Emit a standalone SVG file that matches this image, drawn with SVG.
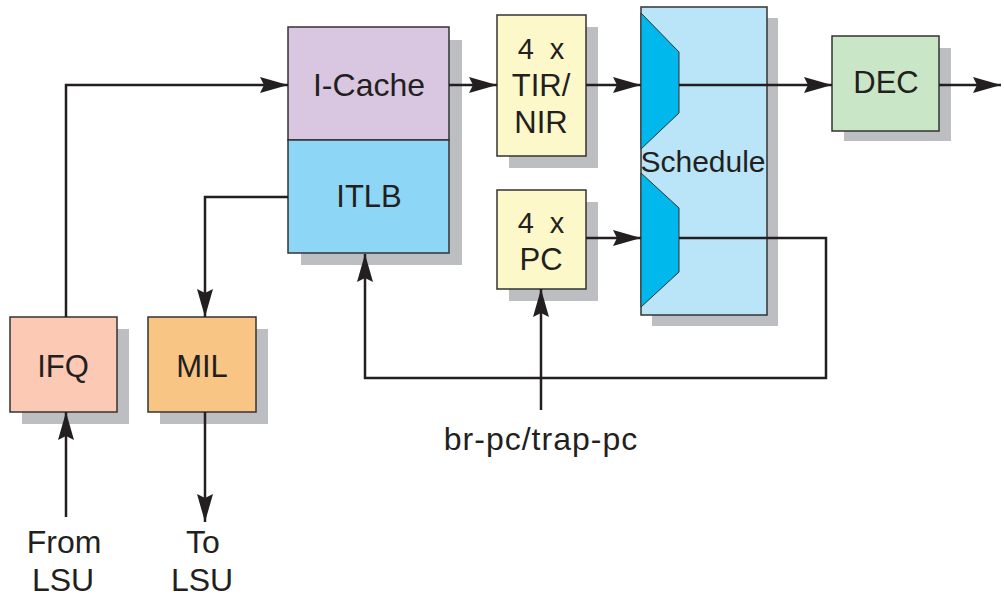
<svg xmlns="http://www.w3.org/2000/svg" width="1004" height="596" viewBox="0 0 1004 596">
<style>
.box{stroke:#333;stroke-width:1.5}
.sh{fill:#bdbec1}
.t{font-family:"Liberation Sans",Arial,sans-serif;font-size:31px;fill:#231f20;text-anchor:middle}
.big{font-size:32px}
.w{fill:none;stroke:#231f20;stroke-width:2.5}
</style>
<defs>
<marker id="a" markerUnits="userSpaceOnUse" markerWidth="30" markerHeight="18" refX="28" refY="8" orient="auto">
<path d="M0,0 L28,8 L0,16 L4,8 Z" fill="#231f20"/>
</marker>
</defs>
<rect width="1004" height="596" fill="#fff"/>
<g id="icache-itlb">
<rect class="sh" x="301" y="40" width="161" height="225"/>
<rect class="box" x="288" y="27" width="161" height="113" fill="#d9c7e1"/>
<rect class="box" x="288" y="140" width="161" height="113" fill="#8dd6f5"/>
<text class="t big" x="369" y="96">I-Cache</text>
<text class="t" x="369" y="207">ITLB</text>
</g>
<g id="tir">
<rect class="sh" x="509" y="27" width="89" height="141"/>
<rect class="box" x="497" y="15" width="89" height="141" fill="#fdf8c9"/>
<text class="t" x="541" y="59" style="font-size:29px" xml:space="preserve">4  x</text>
<text class="t" x="541" y="96">TIR/</text>
<text class="t" x="541" y="133">NIR</text>
</g>
<g id="pc">
<rect class="sh" x="509" y="202" width="89" height="99"/>
<rect class="box" x="497" y="190" width="89" height="99" fill="#fdf8c9"/>
<text class="t" x="541" y="233" style="font-size:29px" xml:space="preserve">4  x</text>
<text class="t" x="541" y="270">PC</text>
</g>
<g id="schedule">
<rect class="sh" x="652" y="18" width="126" height="308"/>
<rect class="box" x="641" y="7" width="126" height="308" fill="#bae4f8"/>
<path d="M641,13 L679,52 L679,113 L641,149 Z" fill="#00b8ec" stroke="#333" stroke-width="1"/>
<path d="M641,173 L679,208 L679,272 L641,307 Z" fill="#00b8ec" stroke="#333" stroke-width="1"/>
<text class="t" x="703" y="172" style="font-size:30px">Schedule</text>
</g>
<g id="dec">
<rect class="sh" x="844" y="48" width="107" height="93"/>
<rect class="box" x="832" y="36" width="107" height="95" fill="#c9e6c6"/>
<text class="t" x="886" y="93">DEC</text>
</g>
<g id="ifq">
<rect class="sh" x="22" y="329" width="107" height="95"/>
<rect class="box" x="10" y="317" width="107" height="95" fill="#fcc9b5"/>
<text class="t" x="63" y="377">IFQ</text>
</g>
<g id="mil">
<rect class="sh" x="160" y="329" width="108" height="95"/>
<rect class="box" x="148" y="317" width="108" height="95" fill="#f9c585"/>
<text class="t" x="202" y="377">MIL</text>
</g>
<g id="connectors">
<path class="w" d="M66,517 L66,412" marker-end="url(#a)"/>
<path class="w" d="M66,317 L66,85 L288,85" marker-end="url(#a)"/>
<path class="w" d="M288,197 L205,197 L205,317" marker-end="url(#a)"/>
<path class="w" d="M205,412 L205,522" marker-end="url(#a)"/>
<path class="w" d="M449,85 L497,85" marker-end="url(#a)"/>
<path class="w" d="M586,85 L641,85" marker-end="url(#a)"/>
<path class="w" d="M586,238 L641,238" marker-end="url(#a)"/>
<path class="w" d="M679,85 L832,85" marker-end="url(#a)"/>
<path class="w" d="M939,85 L1001,85" marker-end="url(#a)"/>
<path class="w" d="M679,238 L826,238 L826,378 L365,378 L365,254" marker-end="url(#a)"/>
<path class="w" d="M541,410 L541,289" marker-end="url(#a)"/>
</g>
<g id="labels">
<text class="t big" x="541" y="450" style="letter-spacing:1px">br-pc/trap-pc</text>
<text class="t big" x="64" y="553">From</text>
<text class="t big" x="63" y="591">LSU</text>
<text class="t big" x="203" y="553">To</text>
<text class="t big" x="202" y="591">LSU</text>
</g>
</svg>
